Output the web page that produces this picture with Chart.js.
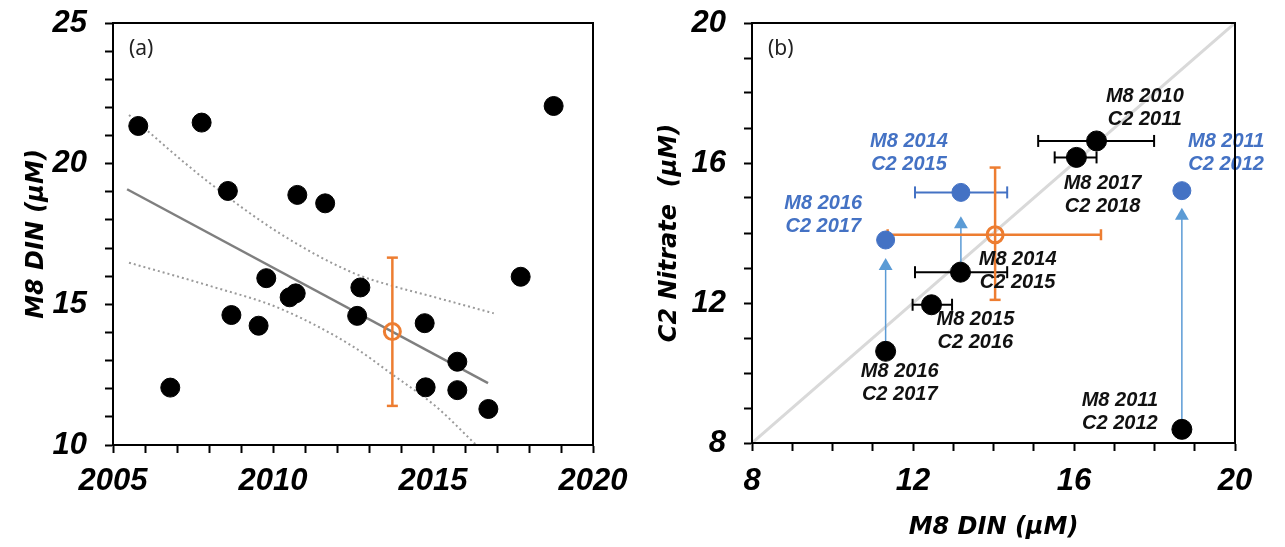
<!DOCTYPE html>
<html>
<head>
<meta charset="utf-8">
<script src="https://cdn.jsdelivr.net/npm/chart.js@4.4.1/dist/chart.umd.min.js"></script>
<style>
  html, body { margin: 0; padding: 0; background: #fff; }
  #wrap { position: relative; width: 1285px; height: 547px; }
  #chartA { position: absolute; left: 0; top: 0; }
  #chartB { position: absolute; left: 640px; top: 0; }
</style>
</head>
<body>
<div id="wrap">
  <canvas id="chartA" width="640" height="547"></canvas>
  <canvas id="chartB" width="645" height="547"></canvas>
</div>
<script>
// ---- panel (a): M8 DIN against year ----
const yearsA = [2005.79, 2006.79, 2007.77, 2008.59, 2008.70, 2009.55, 2009.79, 2010.52, 2010.71, 2010.76,
                2011.63, 2012.63, 2012.73, 2014.74, 2014.77, 2015.76, 2015.76, 2016.73, 2017.74, 2018.77];
const dinA = [21.34, 12.04, 21.46, 19.03, 14.62, 14.24, 15.93, 15.25, 15.39, 18.89,
              18.59, 14.59, 15.60, 14.33, 12.05, 12.96, 11.95, 11.28, 15.98, 22.05];
const trendYears = [2005.44, 2016.72];
const trendDin = [19.09, 12.20];
const ciUpperYears = [2005.5, 2007.9, 2010.2, 2012.5, 2013.75, 2015.0, 2016.9];
const ciUpperDin = [21.73, 19.42, 17.53, 16.12, 15.65, 15.27, 14.68];
const ciLowerYears = [2005.5, 2008.1, 2010.2, 2012.5, 2013.75, 2015.1, 2016.35];
const ciLowerDin = [16.48, 15.63, 14.86, 13.50, 12.49, 11.36, 10.0];
const meanYear = 2013.73, meanDin = 14.03, meanDinLow = 11.39, meanDinHigh = 16.66;
const yearTicks = [2005, 2010, 2015, 2020];
const dinTicks = [10, 15, 20, 25];

// ---- panel (b): C2 nitrate against M8 DIN ----
const blackM8 = [16.56, 16.06, 13.18, 12.46, 11.32, 18.68];
const blackC2 = [16.63, 16.16, 12.88, 11.95, 10.62, 8.39];
const blackM8Lo = [15.11, 15.52, 12.05, 11.99, null, null];
const blackM8Hi = [17.99, 16.56, 14.34, 12.97, null, null];
const blueM8 = [13.19, 18.68, 11.32];
const blueC2 = [15.16, 15.21, 13.80];
const blueM8Lo = [12.05, null, null];
const blueM8Hi = [14.34, null, null];
const arrowM8 = [11.32, 13.19, 18.68];
const arrowFrom = [10.62, 12.88, 8.39];
const arrowTo = [13.06, 14.25, 14.49];
const meanM8 = 14.04, meanC2 = 13.95, meanM8Lo = 11.37, meanM8Hi = 16.67, meanC2Lo = 12.09, meanC2Hi = 15.87;
const nTicks = [8, 12, 16, 20];
const labelText = [
  ['M8 2010', 'C2 2011'], ['M8 2017', 'C2 2018'], ['M8 2014', 'C2 2015'],
  ['M8 2011', 'C2 2012'], ['M8 2016', 'C2 2017'], ['M8 2014', 'C2 2015'],
  ['M8 2015', 'C2 2016'], ['M8 2016', 'C2 2017'], ['M8 2011', 'C2 2012']
];
const labelX = [17.76, 16.71, 11.90, 19.78, 9.77, 14.60, 13.55, 11.67, 17.14];
const labelY = [17.91, 15.42, 16.61, 16.61, 14.84, 13.23, 11.53, 10.04, 9.21];
const labelBlue = [false, false, true, true, true, false, false, false, false];

const ORANGE = '#ed7d31', BLUE = '#4472c4', ARROW = '#5b9bd5';
const tickFont = { family: "'Liberation Sans', Arial, sans-serif", size: 31, style: 'italic', weight: 'bold' };
const titleFont = { family: "'DejaVu Sans', sans-serif", size: 24, style: 'italic', weight: 'bold' };

const framePlugin = {
  id: 'frame',
  afterDraw(chart, args, opts) {
    const { ctx, chartArea: a } = chart;
    ctx.save();
    ctx.strokeStyle = '#000';
    ctx.lineWidth = 2;
    ctx.strokeRect(a.left, a.top, a.right - a.left, a.bottom - a.top);
    ctx.font = '21px "Noto Sans", sans-serif';
    ctx.fillStyle = '#222';
    ctx.textBaseline = 'middle';
    ctx.fillText(opts.letter, a.left + 16, a.top + 26);
    ctx.restore();
  }
};

const labelPlugin = {
  id: 'pairLabels',
  afterDatasetsDraw(chart) {
    const { ctx, scales: { x, y } } = chart;
    ctx.save();
    ctx.font = 'italic bold 20px "Liberation Sans", Arial, sans-serif';
    ctx.textAlign = 'center';
    ctx.textBaseline = 'middle';
    labelText.forEach((lines, i) => {
      ctx.fillStyle = labelBlue[i] ? BLUE : '#111';
      const px = x.getPixelForValue(labelX[i]);
      const py = y.getPixelForValue(labelY[i]);
      lines.forEach((t, k) => ctx.fillText(t, px, py + k * 23));
    });
    ctx.restore();
  }
};

function axis(min, max, labels, pad, extra) {
  return Object.assign({
    type: 'linear', min: min, max: max,
    grid: { drawOnChartArea: false, drawTicks: true, tickLength: 8, tickWidth: 2, tickColor: '#000' },
    border: { display: true, color: '#000', width: 2 },
    ticks: {
      stepSize: 1, autoSkip: false, maxRotation: 0, color: '#000', font: tickFont, padding: pad,
      callback: v => labels.includes(v) ? String(v) : ''
    }
  }, extra);
}

// fixed box sizes so both plot frames sit where the reference puts them
const fixY = w => s => { s.width = w; s.paddingTop = 0; s.paddingBottom = 0; };
const fixX = h => s => { s.height = h; s.paddingLeft = 0; s.paddingRight = 0; };

const pts = (xs, ys) => xs.map((x, i) => ({ x: x, y: ys[i] }));

function errBar(x0, y0, x1, y1, color, width, cap, horizontal, order) {
  return {
    data: [{ x: x0, y: y0 }, { x: x1, y: y1 }], showLine: true,
    borderColor: color, borderWidth: width,
    pointStyle: 'line', pointRotation: horizontal ? 90 : 0, pointRadius: cap,
    pointBorderColor: color, pointBorderWidth: width, order: order
  };
}

const baseOptions = {
  responsive: false, animation: false, devicePixelRatio: 1, events: []
};
const basePlugins = { legend: { display: false }, tooltip: { enabled: false }, colors: { enabled: false } };

// panel (a)
new Chart(document.getElementById('chartA'), {
  type: 'scatter',
  data: {
    datasets: [
      { data: pts(yearsA, dinA), pointRadius: 9.5, backgroundColor: '#000', borderColor: '#000', order: 0 },
      { data: [{ x: meanYear, y: meanDin }], pointRadius: 8, pointBorderWidth: 3,
        backgroundColor: 'rgba(0,0,0,0)', borderColor: ORANGE, order: 1 },
      errBar(meanYear, meanDinLow, meanYear, meanDinHigh, ORANGE, 2.5, 5.5, false, 2),
      { data: pts(trendYears, trendDin), showLine: true, borderColor: '#7f7f7f', borderWidth: 2.5, pointRadius: 0, order: 3 },
      { data: pts(ciUpperYears, ciUpperDin), showLine: true, borderColor: '#9a9a9a', borderWidth: 2, borderDash: [2, 3],
        cubicInterpolationMode: 'monotone', pointRadius: 0, order: 4 },
      { data: pts(ciLowerYears, ciLowerDin), showLine: true, borderColor: '#9a9a9a', borderWidth: 2, borderDash: [2, 3],
        cubicInterpolationMode: 'monotone', pointRadius: 0, order: 4 }
    ]
  },
  options: Object.assign({}, baseOptions, {
    layout: { padding: { top: 23, right: 47, left: 0, bottom: 0 } },
    plugins: Object.assign({}, basePlugins, { frame: { letter: '(a)' } }),
    scales: {
      x: axis(2005, 2020, yearTicks, 10, { afterFit: fixX(102) }),
      y: axis(10, 25, dinTicks, 18, {
        afterFit: fixY(113),
        title: { display: true, text: 'M8 DIN (\u00b5M)', color: '#000', font: titleFont, padding: { top: 22 } }
      })
    }
  }),
  plugins: [framePlugin]
});

// panel (b)
const dsB = [];
dsB.push({ data: pts(blackM8, blackC2), pointRadius: 10, backgroundColor: '#000', borderColor: '#000', order: 0 });
dsB.push({ data: pts(blueM8, blueC2), pointRadius: 9, backgroundColor: BLUE, borderColor: BLUE, order: 0 });
dsB.push({ data: [{ x: meanM8, y: meanC2 }], pointRadius: 8, pointBorderWidth: 3,
  backgroundColor: 'rgba(0,0,0,0)', borderColor: ORANGE, order: 1 });
dsB.push(errBar(meanM8, meanC2Lo, meanM8, meanC2Hi, ORANGE, 2.5, 5.5, false, 2));
dsB.push(errBar(meanM8Lo, meanC2, meanM8Hi, meanC2, ORANGE, 2.5, 5.5, true, 2));
blackM8Lo.forEach((lo, i) => {
  if (lo !== null) dsB.push(errBar(lo, blackC2[i], blackM8Hi[i], blackC2[i], '#000', 2, 6, true, 3));
});
blueM8Lo.forEach((lo, i) => {
  if (lo !== null) dsB.push(errBar(lo, blueC2[i], blueM8Hi[i], blueC2[i], BLUE, 2, 6, true, 3));
});
arrowM8.forEach((x, i) => {
  dsB.push({
    data: [{ x: x, y: arrowFrom[i] }, { x: x, y: arrowTo[i] }], showLine: true,
    borderColor: ARROW, borderWidth: 1.5, pointStyle: 'triangle', pointRadius: [0, 8],
    pointBackgroundColor: ARROW, pointBorderColor: ARROW, pointBorderWidth: 0, order: 4
  });
});
dsB.push({ data: [{ x: 8, y: 8 }, { x: 20, y: 20 }], showLine: true, borderColor: '#d9d9d9', borderWidth: 3, pointRadius: 0, order: 5 });

new Chart(document.getElementById('chartB'), {
  type: 'scatter',
  data: { datasets: dsB },
  options: Object.assign({}, baseOptions, {
    layout: { padding: { top: 23, right: 50, left: 0, bottom: 0 } },
    plugins: Object.assign({}, basePlugins, { frame: { letter: '(b)' } }),
    scales: {
      x: axis(8, 20, nTicks, 12, {
        afterFit: fixX(104),
        title: { display: true, text: 'M8 DIN (\u00b5M)', color: '#000', font: titleFont, padding: { bottom: 5 } }
      }),
      y: axis(8, 20, nTicks, 18, {
        afterFit: fixY(112),
        title: { display: true, text: 'C2 Nitrate  (\u00b5M)', color: '#000', font: titleFont, padding: { top: 15 } }
      })
    }
  }),
  plugins: [framePlugin, labelPlugin]
});
</script>
</body>
</html>
